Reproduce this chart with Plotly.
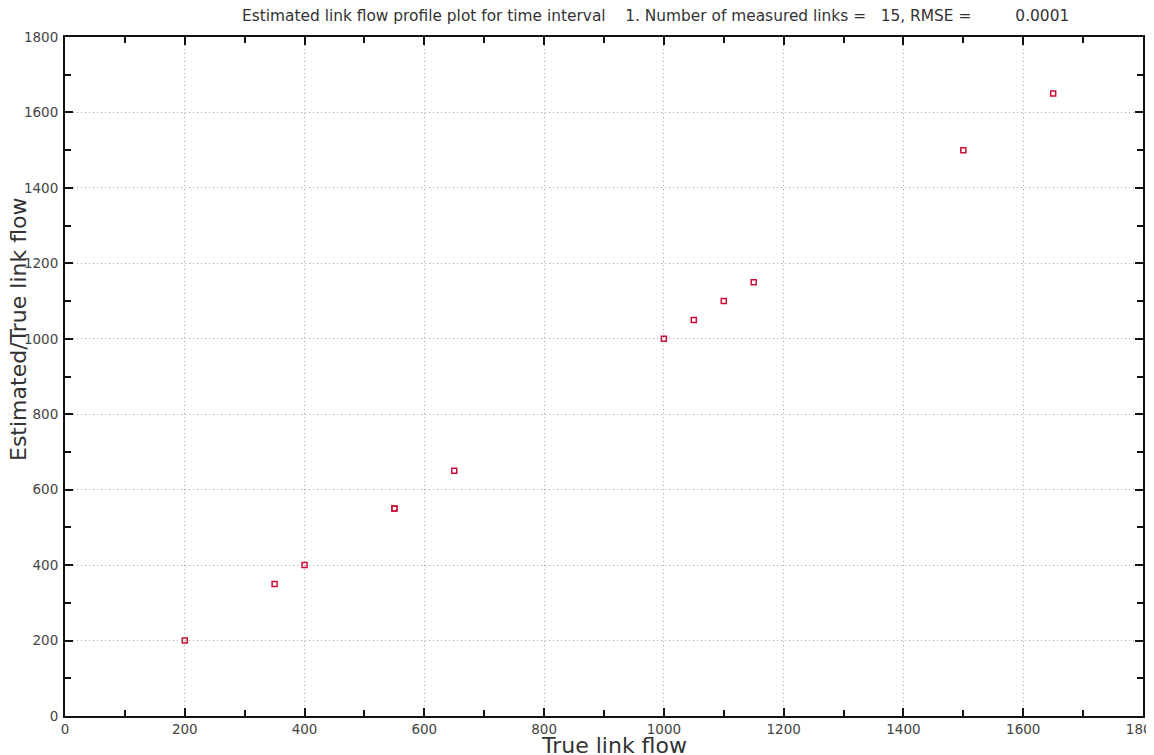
import plotly.graph_objects as go

true_flow = [200, 350, 400, 550, 550, 650, 1000, 1050, 1100, 1150, 1500, 1650]
est_flow = [200, 350, 400, 550, 550, 650, 1000, 1050, 1100, 1150, 1500, 1650]
x_ticks = [0, 200, 400, 600, 800, 1000, 1200, 1400, 1600, 1800]
y_ticks = [0, 200, 400, 600, 800, 1000, 1200, 1400, 1600, 1800]
x_label = "True link flow"
y_label = "Estimated/True link flow"

nb = "\u00a0"
title = ("Estimated link flow profile plot for time interval" + nb * 4 + "1. Number of measured links =" + nb * 3
         + "15, RMSE =" + nb * 9 + "0.0001")

# page has an 8px body margin; figure is sized so it fills the rest of the window
W, H = 1146, 747
ML, MR, MT, MB = 57, 11, 29, 39
PW, PH = W - ML - MR, H - MT - MB

fig = go.Figure()
fig.add_trace(go.Scatter(
    x=true_flow, y=est_flow, mode="markers",
    marker=dict(symbol="square-open", size=5, color="#cc1035", line=dict(width=1.5, color="#cc1035")),
    showlegend=False,
))

axis_common = dict(
    showline=True, linecolor="#111", linewidth=2, mirror="allticks",
    ticks="inside", ticklen=8, tickwidth=2, tickcolor="#111",
    showgrid=True, gridcolor="#a4aab2", griddash="1px,3px", gridwidth=1.2,
    zeroline=False, tickfont=dict(family="DejaVu Sans", size=13.5, color="#444"),
    minor=dict(ticks="inside", dtick=100, ticklen=6, tickwidth=2, tickcolor="#111", showgrid=False),
    automargin=False, ticklabeloverflow="allow",
)

label_font = dict(family="DejaVu Sans", size=22, color="#333")

fig.update_layout(
    width=W, height=H,
    margin=dict(l=ML, r=MR, t=MT, b=MB),
    paper_bgcolor="white", plot_bgcolor="white",
    title=dict(text=title, x=234 / W, xanchor="left", y=1 - 8 / H, yanchor="middle", yref="container",
               font=dict(family="DejaVu Sans", size=15.4, color="#333")),
    xaxis=dict(range=[0, 1800], tickvals=x_ticks, ticktext=[str(v) for v in x_ticks], **axis_common),
    yaxis=dict(range=[0, 1800], tickvals=y_ticks, ticktext=[str(v) for v in y_ticks],
               ticklabelstandoff=2, **axis_common),
    annotations=[
        dict(text=x_label, xref="paper", yref="paper", x=(606 - ML) / PW, y=-(737 - (MT + PH)) / PH,
             xanchor="center", yanchor="middle", showarrow=False, font=label_font),
        dict(text=y_label, xref="paper", yref="paper", x=(10 - ML) / PW, y=((MT + PH) - 322) / PH,
             xanchor="center", yanchor="middle", textangle=-90, showarrow=False, font=label_font),
    ],
)

fig.write_html("out.html")
